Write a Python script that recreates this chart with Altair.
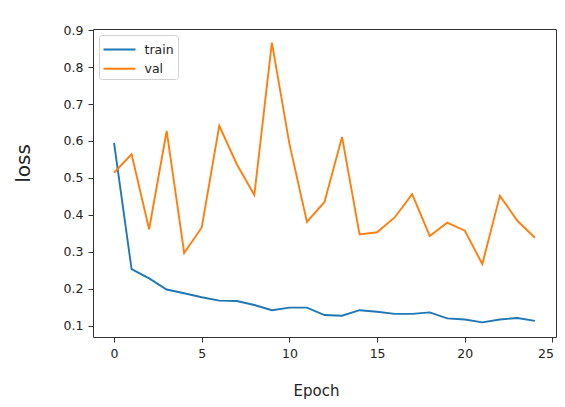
import altair as alt
import pandas as pd

epochs = list(range(25))
train_loss = [0.595, 0.253, 0.228, 0.198, 0.188, 0.177, 0.168, 0.167, 0.156, 0.142,
              0.149, 0.149, 0.129, 0.127, 0.142, 0.138, 0.132, 0.132, 0.136, 0.120,
              0.117, 0.109, 0.117, 0.121, 0.113]
val_loss = [0.514, 0.564, 0.361, 0.627, 0.297, 0.366, 0.641, 0.537, 0.454, 0.866,
            0.592, 0.381, 0.435, 0.611, 0.347, 0.353, 0.393, 0.456, 0.343, 0.379,
            0.357, 0.267, 0.452, 0.384, 0.338]
series_names = ["train", "val"]
series_colors = ["#1f77b4", "#ff7f0e"]
x_ticks = [0, 5, 10, 15, 20, 25]
y_ticks = [0.1, 0.2, 0.3, 0.4, 0.5, 0.6, 0.7, 0.8, 0.9]

rows = []
for e, t, v in zip(epochs, train_loss, val_loss):
    rows.append({"Epoch": e, "loss": t, "series": "train"})
    rows.append({"Epoch": e, "loss": v, "series": "val"})
df = pd.DataFrame(rows)

FONT = "DejaVu Sans"

chart = alt.Chart(df).mark_line(strokeWidth=1.9, clip=True).encode(
    x=alt.X("Epoch:Q",
            scale=alt.Scale(domain=[-1.2, 25.2], nice=False, zero=False),
            axis=alt.Axis(values=x_ticks, format="d", title="Epoch", grid=False,
                          labelFlush=5, labelFlushOffset=1,
                          titleX=223, titleY=58, titleBaseline="alphabetic",
                          titleFontSize=15, titleFontWeight="normal")),
    y=alt.Y("loss:Q",
            scale=alt.Scale(domain=[0.0695, 0.903], nice=False, zero=False),
            axis=alt.Axis(values=y_ticks, format=".1f", title="loss", grid=False,
                          titleX=-70, titleY=134, titleAngle=270,
                          titleAlign="center", titleBaseline="middle",
                          titleFontSize=20, titleFontWeight="normal")),
    color=alt.Color("series:N",
                    scale=alt.Scale(domain=series_names, range=series_colors),
                    legend=alt.Legend(title=None, orient="none", legendX=6, legendY=6,
                                      symbolType="M-1,0H2.2", symbolSize=400,
                                      symbolStrokeWidth=1.9, labelOffset=20,
                                      padding=3.5, rowPadding=1.2,
                                      labelExpr="datum.label + '   '",
                                      strokeColor="#d0d0d0", fillColor="white",
                                      cornerRadius=3, labelFontSize=12.5,
                                      labelColor="#222", labelFont=FONT)),
).properties(
    width=463, height=308,
    background="white",
    autosize=alt.AutoSizeParams(type="none"),
    padding={"left": 85, "top": 21, "right": 1, "bottom": 62},
).configure_view(
    stroke="#333", strokeWidth=1
).configure_axis(
    domain=False, grid=False, tickSize=5, tickColor="#333", tickWidth=1,
    labelFont=FONT, labelFontSize=12.5, labelColor="#222", labelPadding=5,
    titleFont=FONT, titleColor="#222"
)

chart.save("out.html", embed_options={"renderer": "svg", "actions": False})
